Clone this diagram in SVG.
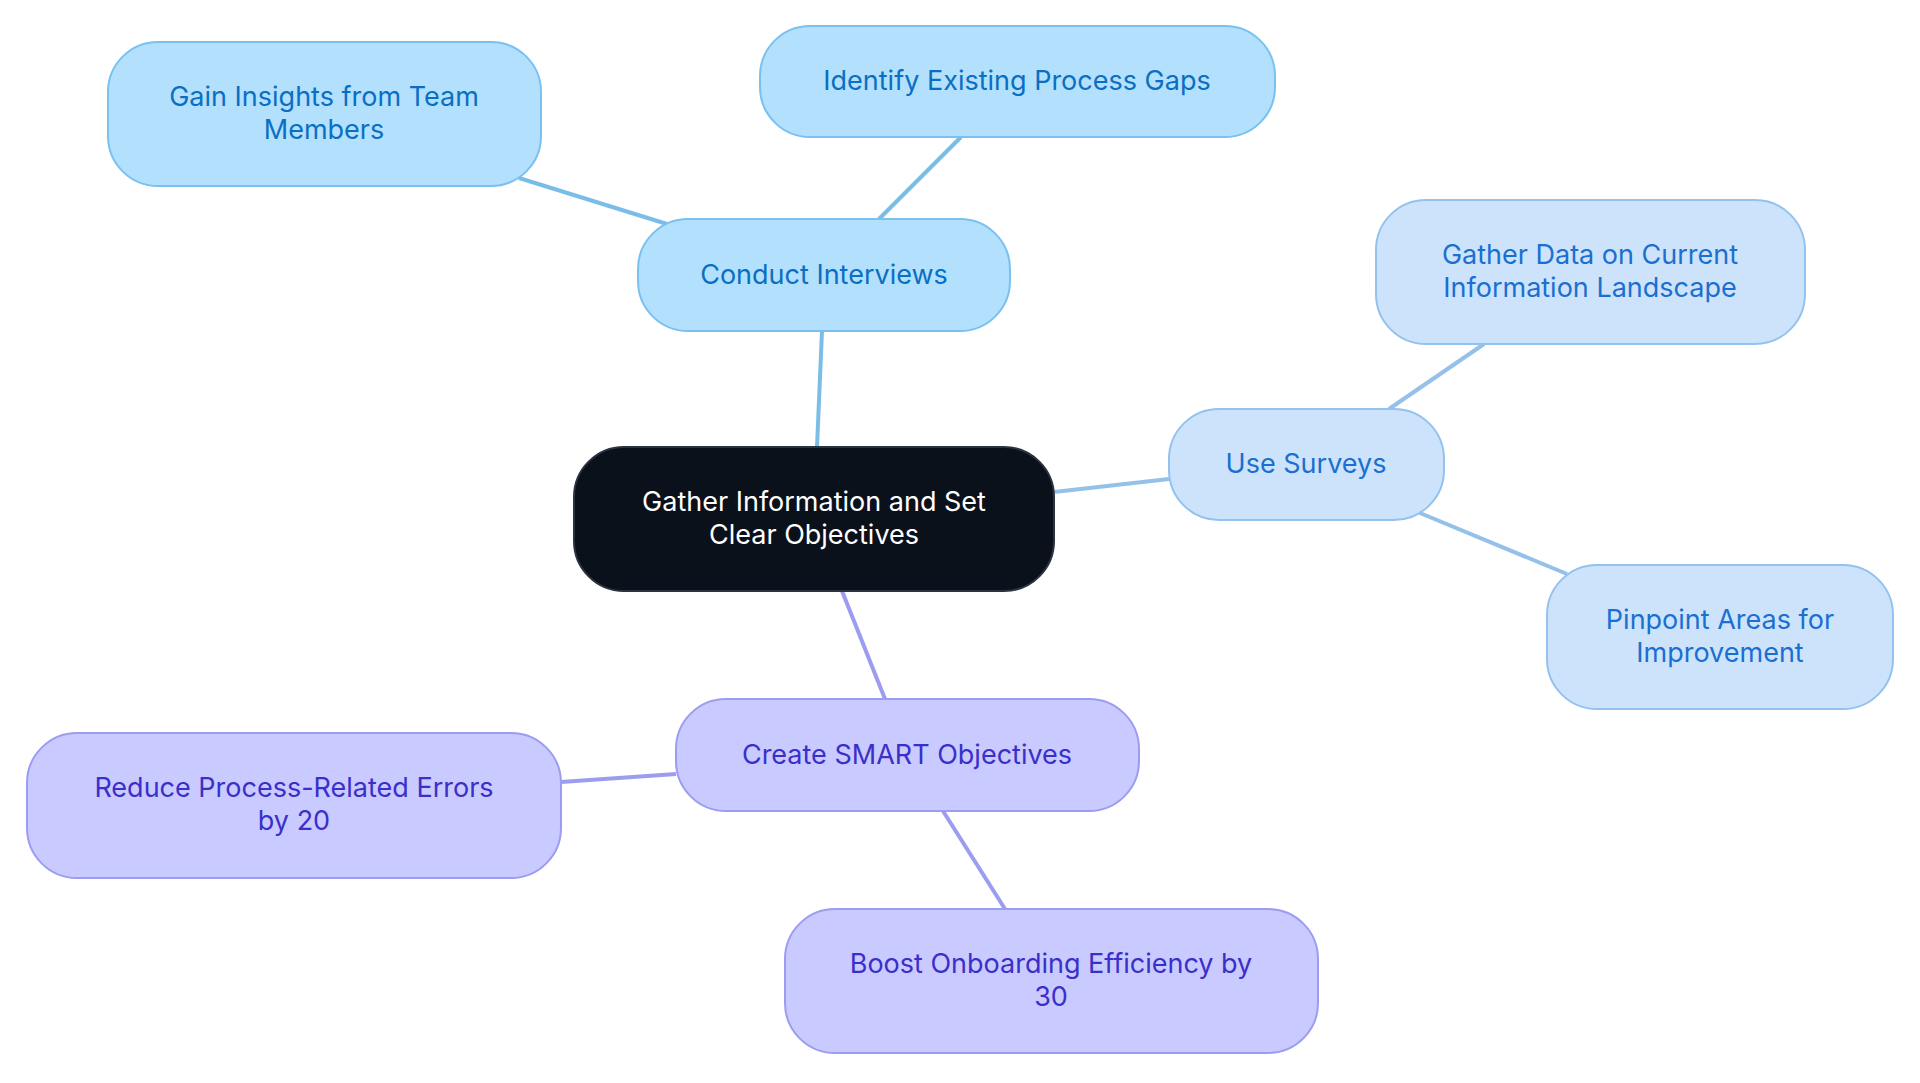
<svg xmlns="http://www.w3.org/2000/svg" width="1920" height="1083" viewBox="0 0 1920 1083">
<style>
text{font-family:Inter,"Noto Sans",sans-serif;font-size:27px;text-anchor:middle;dominant-baseline:central}
.b rect{fill:#b3e0fd;stroke:#7ac1f0;stroke-width:2}.b text{fill:#0a6fc2}
.l rect{fill:#cde3fb;stroke:#94c2ee;stroke-width:2}.l text{fill:#1a6fd0}
.p rect{fill:#c9caff;stroke:#9c9cf0;stroke-width:2}.p text{fill:#3b2fc9}
.c rect{fill:#0b111a;stroke:#2a3340;stroke-width:2}.c text{fill:#ffffff}
#edges line{stroke-width:4}
</style>
<rect width="1920" height="1083" fill="#fff"/>
<g id="edges">
<line x1="817" y1="447" x2="822" y2="331" stroke="#7abde9"/>
<line x1="667" y1="224" x2="519" y2="178" stroke="#7abde9"/>
<line x1="879" y1="219" x2="961" y2="137" stroke="#7abde9"/>
<line x1="1054" y1="492" x2="1169" y2="479" stroke="#94c0ea"/>
<line x1="1389" y1="409" x2="1484" y2="344" stroke="#94c0ea"/>
<line x1="1420" y1="513" x2="1567" y2="574" stroke="#94c0ea"/>
<line x1="842" y1="591" x2="885" y2="699" stroke="#9c9cf0"/>
<line x1="676" y1="774" x2="561" y2="782" stroke="#9c9cf0"/>
<line x1="943" y1="811" x2="1005" y2="909" stroke="#9c9cf0"/>
</g>
<g id="center" class="c"><rect x="574" y="447" width="480" height="144" rx="50"/><text x="814" y="501">Gather Information and Set</text><text x="814" y="534">Clear Objectives</text></g>
<g id="interviews" class="b"><rect x="638" y="219" width="372" height="112" rx="50"/><text x="824" y="274">Conduct Interviews</text></g>
<g id="insights" class="b"><rect x="108" y="42" width="433" height="144" rx="50"/><text x="324" y="96">Gain Insights from Team</text><text x="324" y="129">Members</text></g>
<g id="gaps" class="b"><rect x="760" y="26" width="515" height="111" rx="50"/><text x="1017" y="80">Identify Existing Process Gaps</text></g>
<g id="surveys" class="l"><rect x="1169" y="409" width="275" height="111" rx="50"/><text x="1306" y="463">Use Surveys</text></g>
<g id="data" class="l"><rect x="1376" y="200" width="429" height="144" rx="50"/><text x="1590" y="254">Gather Data on Current</text><text x="1590" y="287">Information Landscape</text></g>
<g id="pinpoint" class="l"><rect x="1547" y="565" width="346" height="144" rx="50"/><text x="1720" y="619">Pinpoint Areas for</text><text x="1720" y="652">Improvement</text></g>
<g id="smart" class="p"><rect x="676" y="699" width="463" height="112" rx="50"/><text x="907" y="754">Create SMART Objectives</text></g>
<g id="reduce" class="p"><rect x="27" y="733" width="534" height="145" rx="50"/><text x="294" y="787">Reduce Process-Related Errors</text><text x="294" y="820">by 20</text></g>
<g id="boost" class="p"><rect x="785" y="909" width="533" height="144" rx="50"/><text x="1051" y="963">Boost Onboarding Efficiency by</text><text x="1051" y="996">30</text></g>
</svg>
